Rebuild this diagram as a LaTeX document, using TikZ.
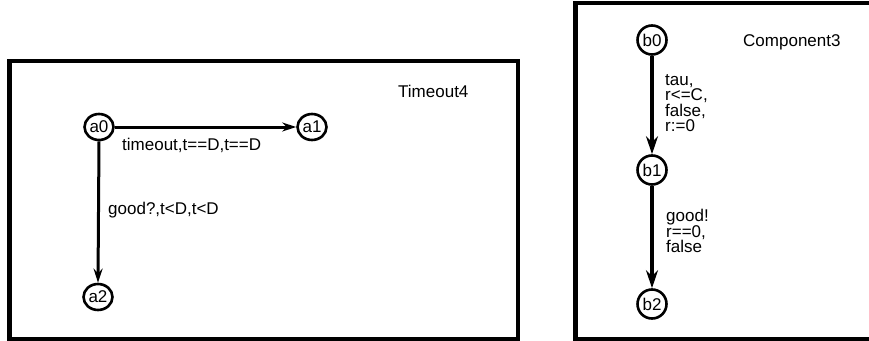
\documentclass[tikz,border=0pt]{standalone}
\usepackage{fontspec}
\setmainfont{Liberation Sans}
\usetikzlibrary{arrows.meta,shapes.geometric}
\begin{document}
\begin{tikzpicture}[x=1pt,y=-1pt,
  box/.style={draw, line width=4.5pt},
  locA/.style={draw, ellipse, line width=2.6pt, minimum width=29pt, minimum height=26pt, inner sep=0pt, font=\fontsize{17}{17}\selectfont},
  locB/.style={draw, circle, line width=2.6pt, minimum size=29pt, inner sep=0pt, font=\fontsize{17}{17}\selectfont},
  edgeA/.style={line width=3pt, -{Stealth[length=14pt,width=9pt]}},
  edgeB/.style={line width=4.5pt, -{Stealth[length=18pt,width=12pt]}},
  lbl/.style={anchor=west, inner sep=0pt, font=\fontsize{17}{15.5}\selectfont, align=left},
  title/.style={anchor=west, inner sep=0pt, font=\fontsize{17}{17}\selectfont}
]
\useasboundingbox (0,0) rectangle (869,340);
\clip (0,0) rectangle (869,340);
% boxes
\draw[box] (9.5,61) rectangle (518,339);
\draw[box] (575.5,3) rectangle (873,339);
% titles
\node[title] (t4) at (398,91) {Timeout4};
\node[title] (c3) at (743,42) {Component3};
% left automaton
\node[locA] (a0) at (99,127) {a0};
\node[locA] (a1) at (312,127) {a1};
\node[locA] (a2) at (98,297) {a2};
\draw[edgeA] (a0) -- (a1);
\draw[edgeA] (a0.south) -- (a2.north);
\node[lbl] (l1) at (122,145) {timeout,t==D,t==D};
\node[lbl] (l2) at (108,210) {good?,t<D,t<D};
% right automaton
\node[locB] (b0) at (652,40) {b0};
\node[locB] (b1) at (652,170) {b1};
\node[locB] (b2) at (652,304) {b2};
\draw[edgeB] (b0) -- (b1);
\draw[edgeB] (b1) -- (b2);
\node[lbl] (l3) at (665,103) {tau,\\r<=C,\\false,\\r:=0};
\node[lbl] (l4) at (666,231) {good!\\r==0,\\false};
\end{tikzpicture}
\end{document}
